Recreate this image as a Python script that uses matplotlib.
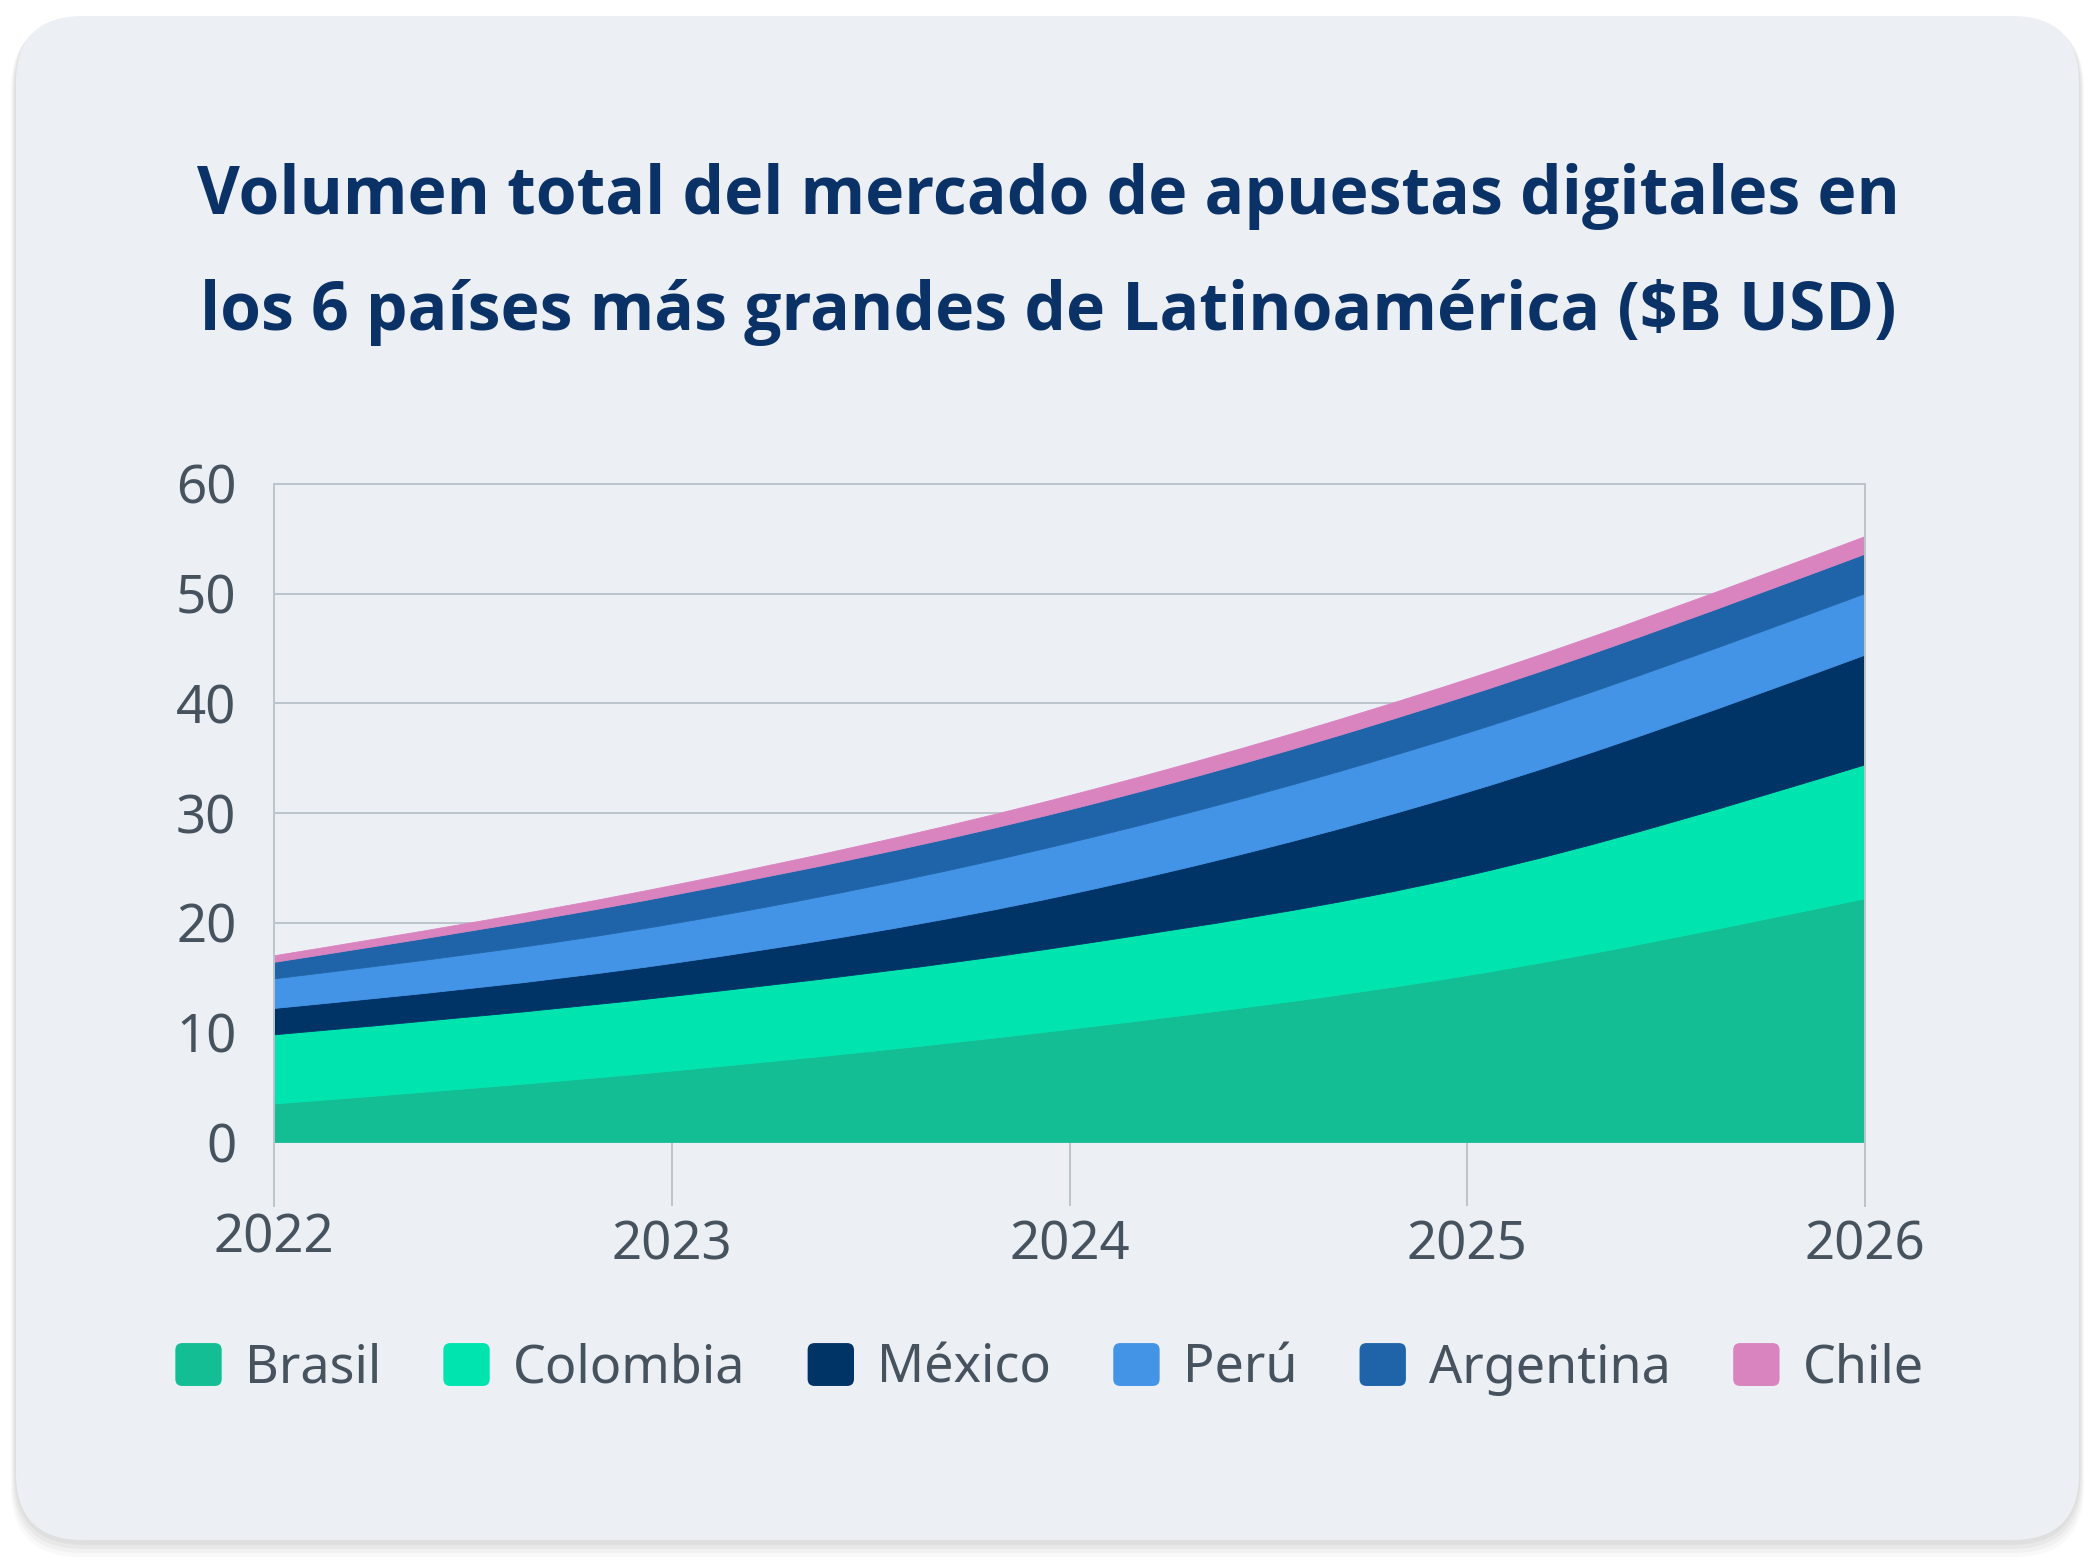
import numpy as np
import matplotlib
matplotlib.use("Agg")
import matplotlib.pyplot as plt
from matplotlib.path import Path
from matplotlib.patches import PathPatch, FancyBboxPatch, Patch
from matplotlib.legend_handler import HandlerPatch
from matplotlib.transforms import ScaledTranslation

# data (billions USD)
years = [2022, 2023, 2024, 2025, 2026]
countries = ["Brasil", "Colombia", "México", "Perú", "Argentina", "Chile"]
brasil = [3.5, 6.5, 10.3, 15.2, 22.2]
colombia = [6.3, 6.8, 7.6, 9.1, 12.2]
mexico = [2.4, 3.0, 4.7, 7.6, 10.0]
peru = [2.7, 3.6, 4.7, 5.4, 5.6]
argentina = [1.5, 2.6, 3.0, 3.4, 3.6]
chile = [0.6, 0.9, 1.3, 1.5, 1.6]
y_ticks = [0, 10, 20, 30, 40, 50, 60]

colors = ["#14BE94", "#00E5B0", "#003366", "#4393E6", "#1F64A8", "#D984BF"]
bg = "#ECF0F5"
text_gray = "#46525E"
title_color = "#0B3266"
grid_color = "#BCC4CB"

plt.rcParams['font.family'] = ['Noto Sans', 'DejaVu Sans']


def mono_tangents(x, y):
    # monotone cubic tangents (same rule as d3 curveMonotoneX)
    h = np.diff(x)
    s = np.diff(y) / h
    t = np.zeros(len(y))
    for i in range(1, len(y) - 1):
        p = (s[i - 1] * h[i] + s[i] * h[i - 1]) / (h[i - 1] + h[i])
        t[i] = (np.sign(s[i - 1]) + np.sign(s[i])) * min(abs(s[i - 1]), abs(s[i]), 0.5 * abs(p))
    t[0] = (3 * s[0] - t[1]) / 2
    t[-1] = (3 * s[-1] - t[-2]) / 2
    return t


def curve_segments(x, y):
    t = mono_tangents(x, y)
    verts = []
    for i in range(len(x) - 1):
        h = x[i + 1] - x[i]
        verts += [(x[i] + h / 3, y[i] + t[i] * h / 3),
                  (x[i + 1] - h / 3, y[i + 1] - t[i + 1] * h / 3),
                  (x[i + 1], y[i + 1])]
    return verts


def band_path(x, low, high):
    x = np.asarray(x, float)
    verts = [(x[0], high[0])] + curve_segments(x, high)
    codes = [Path.MOVETO] + [Path.CURVE4] * (len(verts) - 1)
    back = curve_segments(x[::-1], low[::-1])
    verts += [(x[-1], low[-1])] + back + [(x[0], high[0])]
    codes += [Path.LINETO] + [Path.CURVE4] * len(back) + [Path.CLOSEPOLY]
    return Path(verts, codes)


fig = plt.figure(figsize=(20.96, 15.62), dpi=100)
fig.patch.set_facecolor("white")

# card with soft shadow
for k, a in enumerate([0.035, 0.035, 0.03, 0.025]):
    off = 0.05 + k * 0.04
    fig.patches.append(FancyBboxPatch((0.16 - off * 0.3, 0.22 - off), 20.63 + off * 0.6, 15.24 + off * 0.8,
                                      boxstyle="round,pad=0,rounding_size=0.7",
                                      transform=fig.dpi_scale_trans, facecolor="black",
                                      edgecolor="none", alpha=a, zorder=0))
fig.patches.append(FancyBboxPatch((0.16, 0.22), 20.63, 15.24,
                                  boxstyle="round,pad=0,rounding_size=0.67",
                                  transform=fig.dpi_scale_trans, facecolor=bg,
                                  edgecolor="none", zorder=1))

title_font = ['Open Sans', 'DejaVu Sans']
fig.text(0.5, 1 - 197 / 1562, "Volumen total del mercado de apuestas digitales en",
         ha="center", va="center", fontsize=47.5, fontweight="bold", color=title_color, family=title_font)
fig.text(0.5, 1 - 313 / 1562, "los 6 países más grandes de Latinoamérica ($B USD)",
         ha="center", va="center", fontsize=47.5, fontweight="bold", color=title_color, family=title_font)

ax = fig.add_axes([274 / 2096, 1 - 1206 / 1562, (1865 - 274) / 2096, (1206 - 484) / 1562])
ax.set_facecolor("none")
ax.set_zorder(2)

series = [brasil, colombia, mexico, peru, argentina, chile]
low = np.zeros(len(years))
for vals, col in zip(series, colors):
    high = low + np.asarray(vals)
    ax.add_patch(PathPatch(band_path(years, low, high), facecolor=col, edgecolor=col,
                           linewidth=0.6, zorder=2))
    low = high

ax.set_xlim(years[0], years[-1])
ax.set_ylim(-5.8, 60)
ax.set_xticks(years)
ax.set_xticklabels([str(y) for y in years])
ax.set_yticks(y_ticks)
ax.grid(True, axis="y", color=grid_color, linewidth=1.4)
ax.set_axisbelow(True)
# year marks below the zero line
ax.vlines(years, -5.8, 0, color=grid_color, linewidth=1.4, zorder=1)
for name, sp in ax.spines.items():
    sp.set_visible(name != "bottom")
    sp.set_color(grid_color)
    sp.set_linewidth(1.4)
ax.tick_params(length=0, labelsize=38, labelcolor=text_gray)
ax.tick_params(axis="y", pad=27)
ax.tick_params(axis="x", pad=10)
# first year label sits a little higher in the reference
lbl0 = ax.get_xticklabels()[0]
lbl0.set_transform(lbl0.get_transform() + ScaledTranslation(0, 0.07, fig.dpi_scale_trans))


class RoundHandler(HandlerPatch):
    def create_artists(self, legend, orig_handle, xdescent, ydescent, width, height, fontsize, trans):
        p = FancyBboxPatch((-xdescent, -ydescent), width, height,
                           boxstyle="round,pad=0,rounding_size=5",
                           facecolor=orig_handle.get_facecolor(), edgecolor="none", transform=trans)
        return [p]


handles = [Patch(facecolor=c, label=n) for c, n in zip(colors, countries)]
leg = fig.legend(handles=handles, loc="center", bbox_to_anchor=(0.5007, 1 - 1369 / 1562), ncol=6,
                 frameon=False, fontsize=37.5, labelcolor=text_gray,
                 handlelength=0.89, handleheight=0.89, handletextpad=0.44, columnspacing=1.2,
                 handler_map={Patch: RoundHandler()})

fig.savefig("out.png", dpi=100, facecolor=fig.get_facecolor())
